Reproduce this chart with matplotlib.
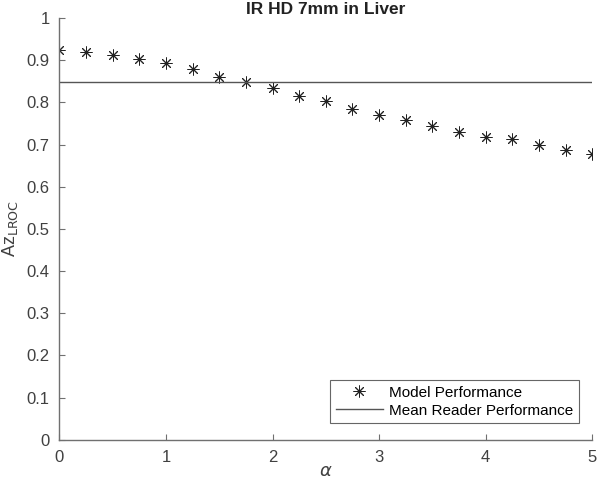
import matplotlib.pyplot as plt

plt.rcParams['font.family'] = ['Liberation Sans', 'DejaVu Sans']

alpha = [0, 0.25, 0.5, 0.75, 1, 1.25, 1.5, 1.75, 2, 2.25, 2.5,
         2.75, 3, 3.25, 3.5, 3.75, 4, 4.25, 4.5, 4.75, 5]
az_model = [0.923, 0.919, 0.913, 0.903, 0.894, 0.879, 0.860, 0.848, 0.835, 0.815, 0.803,
            0.785, 0.769, 0.759, 0.743, 0.729, 0.718, 0.712, 0.700, 0.687, 0.678]
mean_reader = 0.848

axc = '#404040'
spc = '#707070'

fig = plt.figure(figsize=(6, 4.86), dpi=100)
ax = fig.add_axes([0.099, 0.095, 0.888, 0.868])

ax.plot(alpha, az_model, ls='none', marker=(8, 2, 0), ms=8.5, mew=0.7,
        color='#222222', label='Model Performance')
ax.axhline(mean_reader, color='#555555', lw=1.0, label='Mean Reader Performance')

ax.set_xlim(0, 5)
ax.set_ylim(0, 1)
ax.set_xticks(range(6))
ax.set_yticks([i / 10 for i in range(11)])
ax.set_yticklabels(['0'] + [f'{i/10:.1f}' for i in range(1, 10)] + ['1'])

for s in ['top', 'right']:
    ax.spines[s].set_visible(False)
for s in ['left', 'bottom']:
    ax.spines[s].set_color(spc)
    ax.spines[s].set_linewidth(1.0)
ax.tick_params(direction='in', length=4, width=0.8, color=spc, labelcolor=axc,
               labelsize=12, pad=7)

ax.set_title('IR HD 7mm in Liver', fontsize=12.5, fontweight='bold', color='#222222', pad=3)
ax.set_xlabel(r'$\alpha$', fontsize=13, color=axc, labelpad=-1)
ax.set_ylabel(r'Az$_{\mathrm{LROC}}$', fontsize=13, color=axc, labelpad=5)

leg = ax.legend(loc='lower right', fontsize=11, frameon=True, fancybox=False,
                edgecolor=axc, bbox_to_anchor=(0.975, 0.04), borderaxespad=0,
                handlelength=3.1, labelspacing=0.25, borderpad=0.35, handletextpad=0.4)
leg.get_frame().set_linewidth(0.8)

fig.savefig('out.png', dpi=100)
